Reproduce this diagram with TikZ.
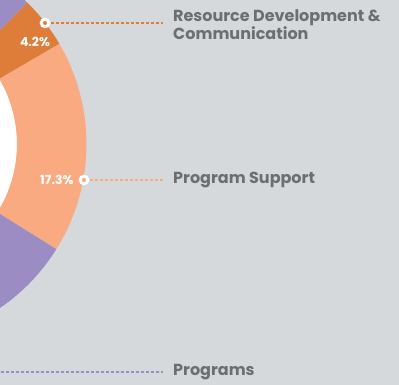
\documentclass[tikz,border=0pt]{standalone}
\usepackage{fontspec}
\setmainfont{Poppins}
\usetikzlibrary{positioning}
\definecolor{bggray}{HTML}{D6D9DC}
\definecolor{slicepurple}{HTML}{9B8CC3}
\definecolor{slicelight}{HTML}{FAAA80}
\definecolor{slicedark}{HTML}{DE7C3A}
\definecolor{labelgray}{HTML}{6D6E71}
\begin{document}
\begin{tikzpicture}[x=1pt,y=1pt,
                    catlabel/.style={anchor=west,inner sep=0pt,text=labelgray,align=left,
                                     font=\fontsize{16}{15}\selectfont\bfseries},
                    pctlabel/.style={text=white,inner sep=0pt,
                                     font=\fontsize{12.5}{12.5}\selectfont\bfseries},
                    marker/.style={circle,draw=white,line width=3pt,minimum size=7.5pt,inner sep=0pt},
                    leader/.style={dash pattern=on 3pt off 2pt,line width=1.1pt,shorten <=1pt}
                    ]
  \fill[bggray] (0,0) rectangle (399,385);
  \useasboundingbox (0,0) rectangle (399,385);
  \coordinate (c) at (-112,241);

  % donut
  \begin{scope}
    \clip (0,0) rectangle (399,385);
    \fill[white] (c) circle (129pt);
    \foreach \a/\b/\col in {45.4/160/slicepurple, 30.3/45.4/slicedark,
                            -32/30.3/slicelight, -160/-32/slicepurple}
      \fill[\col,shift={(c)}] (\a:129pt) arc[start angle=\a,end angle=\b,radius=129pt]
        -- (\b:198.5pt) arc[start angle=\b,end angle=\a,radius=198.5pt] -- cycle;
  \end{scope}

  % markers and values
  \node[marker,fill=slicedark] (mkres) at (45,362) {};
  \node[marker,fill=slicelight] (mksup) at (84,205) {};
  \node[pctlabel] (pctres) at (35,343) {4.2\%};
  \node[pctlabel,left=5pt of mksup] (pctsup) {17.3\%};

  % categories
  \node[catlabel] (lblres) at (173,360.5) {Resource Development \&\\Communication};
  \node[catlabel] (lblsup) at (173,205) {Program Support};
  \node[catlabel] (lblprog) at (173,13) {Programs};
  \coordinate (progstart) at (0,13);

  \draw[leader,slicedark,shorten >=10pt] (mkres) -- (mkres -| lblres.west);
  \draw[leader,slicelight,shorten >=10pt] (mksup) -- (lblsup.west);
  \draw[leader,slicepurple,shorten >=10pt] (progstart) -- (lblprog.west);
\end{tikzpicture}
\end{document}
